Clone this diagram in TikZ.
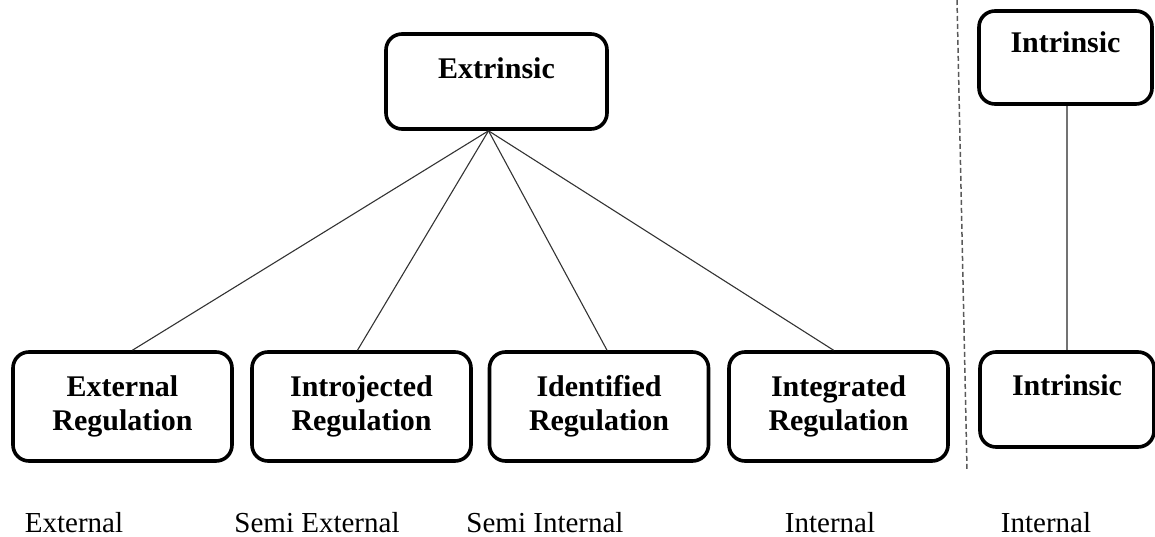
\documentclass[tikz,border=0pt]{standalone}
\usepackage{fontspec}
\setmainfont{Liberation Serif}

\tikzset{
  rbox/.style={draw=black, fill=white, line width=3.6pt, rounded corners=16pt,
    inner sep=0pt, font=\fontsize{30}{34}\selectfont\bfseries},
  regbox/.style={rbox, align=center, minimum width=219pt, minimum height=109pt},
  headbox/.style={rbox, text height=21pt, text depth=30pt},
  link/.style={draw=black!80, line width=1.1pt},
  level/.style={font=\fontsize{29}{33}\selectfont, anchor=base, inner sep=0pt}
}

\begin{document}
\begin{tikzpicture}[x=1pt,y=1pt]
  \useasboundingbox (0,0) rectangle (1155,-537);
  % extrinsic side
  \node[headbox, minimum width=221pt, minimum height=95pt, text depth=26pt] (ext) at (496.5,-81.5) {Extrinsic};
  \node[regbox] (ereg) at (122.5,-406.5) {External\\Regulation};
  \node[regbox] (ireg) at (361.5,-406.5) {Introjected\\Regulation};
  \node[regbox] (idreg) at (599,-406.5) {Identified\\Regulation};
  \node[regbox] (inreg) at (838.5,-406.5) {Integrated\\Regulation};
  \coordinate (hub) at ([xshift=-8pt]ext.south);
  \draw[link] (hub) -- ([xshift=10pt]ereg.north);
  \draw[link] (hub) -- ([xshift=-4pt]ireg.north);
  \draw[link] (hub) -- ([xshift=8pt]idreg.north);
  \draw[link] (hub) -- ([xshift=-5pt]inreg.north);
  % separator
  \coordinate (septop) at (957,0);
  \coordinate (sepbot) at (967,-470);
  \draw[draw=black!65, line width=1.5pt, dash pattern=on 5pt off 3pt] (septop) -- (sepbot);
  % intrinsic side
  \node[headbox, minimum width=173pt, minimum height=93pt] (intr) at (1065.5,-57.5) {Intrinsic};
  \node[headbox, minimum width=174pt, minimum height=95pt] (intrb) at (1067,-399.5) {Intrinsic};
  \draw[link, draw=black!55, line width=1.5pt] (intrb.north) -- (intrb.north |- intr.south);
  % levels
  \node[level] (lext) at (74,-532) {External};
  \node[level] (lsext) at (317,-532) {Semi External};
  \node[level] (lsint) at (545,-532) {Semi Internal};
  \node[level] (lint) at (830,-532) {Internal};
  \node[level] (lintr) at (1046,-532) {Internal};
\end{tikzpicture}
\end{document}
